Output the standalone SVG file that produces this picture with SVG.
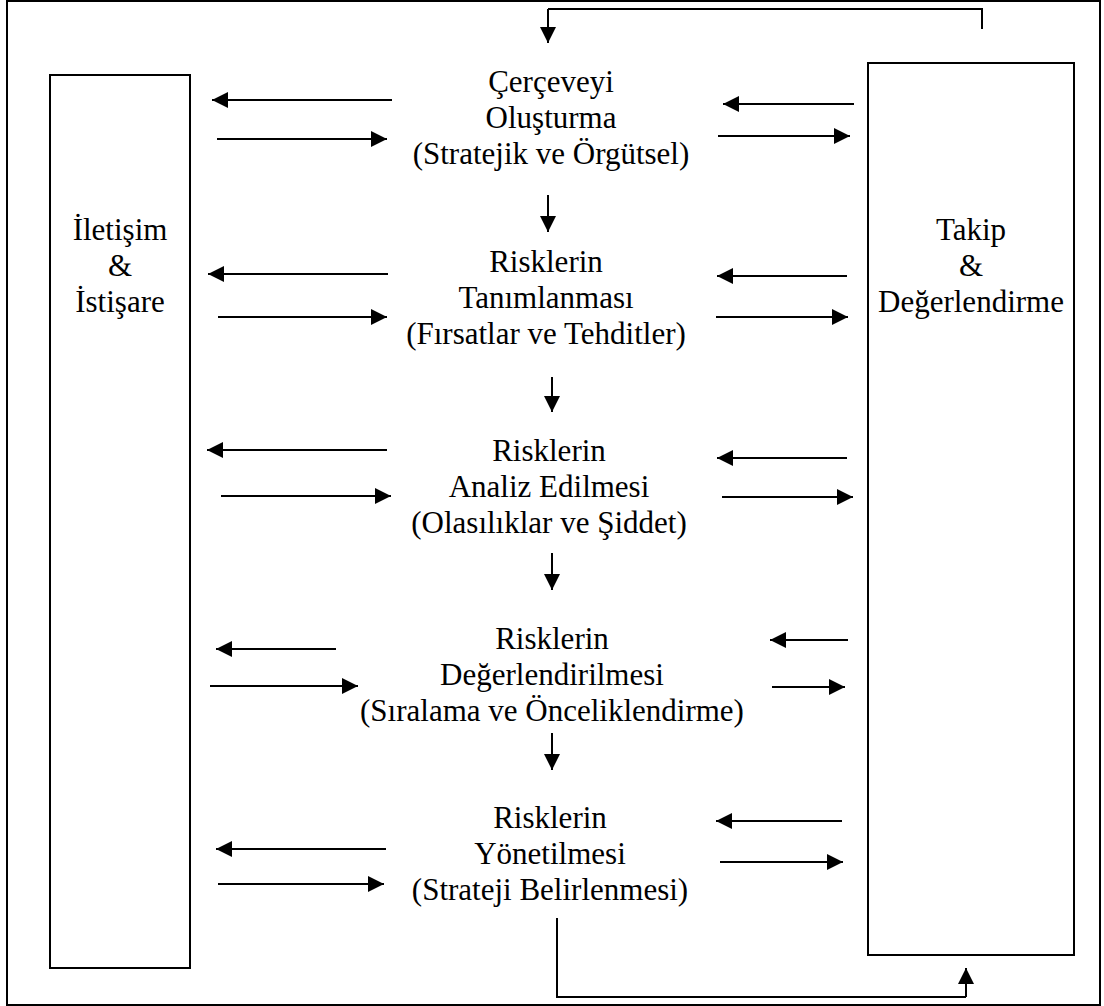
<svg xmlns="http://www.w3.org/2000/svg" width="1104" height="1006" viewBox="0 0 1104 1006">
  <style>
    .box { fill: none; stroke: #000; stroke-width: 2; }
    .ln { fill: none; stroke: #000; stroke-width: 2; }
    .arr { fill: none; stroke: #000; stroke-width: 2; marker-end: url(#head); }
    text { font-family: "Liberation Serif", "Times New Roman", serif; font-size: 31px; fill: #000; text-anchor: middle; }
  </style>
  <defs>
    <marker id="head" markerUnits="userSpaceOnUse" markerWidth="17" markerHeight="16" refX="16" refY="8" orient="auto">
      <path d="M0,0 L16,8 L0,16 Z" fill="#000"/>
    </marker>
  </defs>
  <rect width="1104" height="1006" fill="#fff"/>
  <!-- outer frame -->
  <rect class="box" x="7" y="1" width="1093" height="1004"/>

  <!-- side boxes -->
  <g id="iletisim">
    <rect class="box" x="50" y="75" width="140" height="893"/>
    <text x="120" y="240">İletişim</text>
    <text x="120" y="276">&amp;</text>
    <text x="120" y="312">İstişare</text>
  </g>
  <g id="takip">
    <rect class="box" x="868" y="63" width="206" height="892"/>
    <text x="971" y="240">Takip</text>
    <text x="971" y="276">&amp;</text>
    <text x="971" y="312">Değerlendirme</text>
  </g>

  <!-- process steps -->
  <g id="cerceve">
    <text x="551" y="92">Çerçeveyi</text>
    <text x="551" y="128">Oluşturma</text>
    <text x="551" y="164">(Stratejik ve Örgütsel)</text>
  </g>
  <g id="tanimlama">
    <text x="546" y="272">Risklerin</text>
    <text x="546" y="308">Tanımlanması</text>
    <text x="546" y="344">(Fırsatlar ve Tehditler)</text>
  </g>
  <g id="analiz">
    <text x="549" y="461">Risklerin</text>
    <text x="549" y="497">Analiz Edilmesi</text>
    <text x="549" y="533">(Olasılıklar ve Şiddet)</text>
  </g>
  <g id="degerlendirme">
    <text x="552" y="649">Risklerin</text>
    <text x="552" y="685">Değerlendirilmesi</text>
    <text x="552" y="721">(Sıralama ve Önceliklendirme)</text>
  </g>
  <g id="yonetim">
    <text x="550" y="828">Risklerin</text>
    <text x="550" y="864">Yönetilmesi</text>
    <text x="550" y="900">(Strateji Belirlenmesi)</text>
  </g>

  <!-- connectors -->
  <g id="connectors">
    <!-- feedback loop from monitoring back to framing -->
    <polyline class="ln" points="982,29 982,9 548,9"/>
    <line class="arr" x1="548" y1="9" x2="548" y2="43"/>
    <!-- step to step -->
    <line class="arr" x1="548" y1="195" x2="548" y2="232"/>
    <line class="arr" x1="552" y1="377" x2="552" y2="412"/>
    <line class="arr" x1="552" y1="553" x2="552" y2="590"/>
    <line class="arr" x1="552" y1="733" x2="552" y2="770"/>
    <!-- management back to monitoring -->
    <polyline class="ln" points="557,918 557,997 966,997"/>
    <line class="arr" x1="966" y1="997" x2="966" y2="968"/>

    <!-- left side exchanges -->
    <line class="arr" x1="392" y1="100" x2="212" y2="100"/>
    <line class="arr" x1="217" y1="139" x2="387" y2="139"/>
    <line class="arr" x1="388" y1="274" x2="208" y2="274"/>
    <line class="arr" x1="218" y1="317" x2="387" y2="317"/>
    <line class="arr" x1="387" y1="450" x2="207" y2="450"/>
    <line class="arr" x1="221" y1="496" x2="391" y2="496"/>
    <line class="arr" x1="336" y1="649" x2="216" y2="649"/>
    <line class="arr" x1="210" y1="686" x2="358" y2="686"/>
    <line class="arr" x1="386" y1="849" x2="216" y2="849"/>
    <line class="arr" x1="218" y1="884" x2="384" y2="884"/>

    <!-- right side exchanges -->
    <line class="arr" x1="854" y1="104" x2="723" y2="104"/>
    <line class="arr" x1="718" y1="136" x2="850" y2="136"/>
    <line class="arr" x1="847" y1="276" x2="717" y2="276"/>
    <line class="arr" x1="716" y1="317" x2="848" y2="317"/>
    <line class="arr" x1="847" y1="458" x2="717" y2="458"/>
    <line class="arr" x1="722" y1="497" x2="853" y2="497"/>
    <line class="arr" x1="848" y1="640" x2="770" y2="640"/>
    <line class="arr" x1="772" y1="687" x2="845" y2="687"/>
    <line class="arr" x1="842" y1="821" x2="716" y2="821"/>
    <line class="arr" x1="720" y1="862" x2="843" y2="862"/>
  </g>
</svg>
